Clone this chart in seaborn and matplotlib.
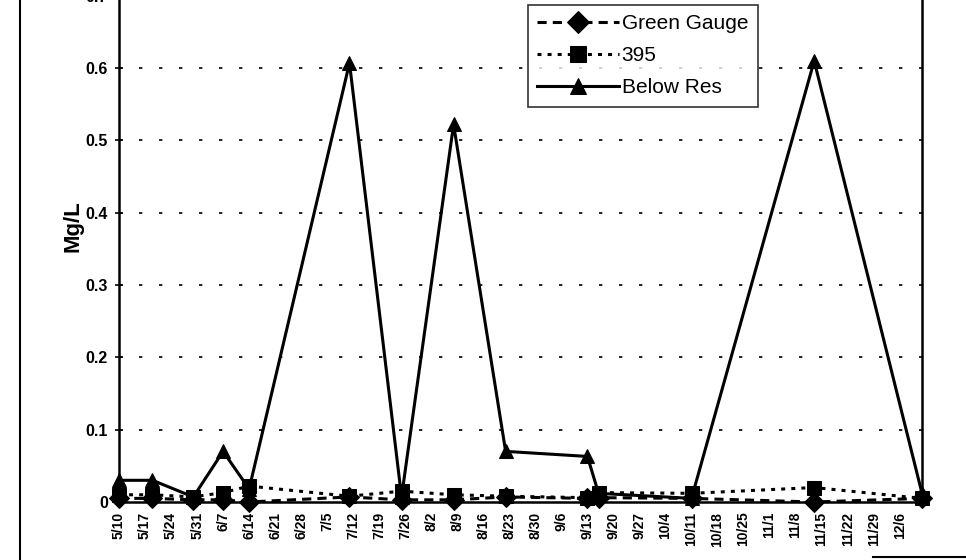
#!/usr/bin/env python3

import pandas as pd
import matplotlib
matplotlib.use('Agg')
import matplotlib.pyplot as plt
from matplotlib.lines import Line2D
from matplotlib.ticker import FuncFormatter
import seaborn as sns

# sample dates (year is not shown on the chart)
dates = ['1999-05-10', '1999-05-19', '1999-05-30', '1999-06-07', '1999-06-14',
         '1999-07-11', '1999-07-25', '1999-08-08', '1999-08-22', '1999-09-13',
         '1999-09-16', '1999-10-11', '1999-11-13', '1999-12-12']

# Mg/L
green_gauge = [0.005, 0.005, 0.003, 0.003, 0.0, 0.007, 0.003, 0.003, 0.007, 0.005,
               0.006, 0.005, 0.0, 0.005]
site_395 = [0.01, 0.01, 0.007, 0.013, 0.022, 0.008, 0.015, 0.01, 0.008, 0.006,
            0.013, 0.012, 0.02, 0.005]
below_res = [0.03, 0.03, 0.007, 0.07, 0.018, 0.607, 0.007, 0.522, 0.07, 0.063,
             0.012, 0.005, 0.61, 0.012]

series_names = ['Green Gauge', '395', 'Below Res']
y_ticks = [0, 0.1, 0.2, 0.3, 0.4, 0.5, 0.6, 0.7]
tick_start = '1999-05-10'
tick_end = '1999-12-06'

df = pd.DataFrame({'date': pd.to_datetime(dates),
                   'Green Gauge': green_gauge,
                   '395': site_395,
                   'Below Res': below_res})
long_df = df.melt(id_vars='date', var_name='site', value_name='mgl')

plt.rcParams['font.family'] = ['Liberation Sans', 'DejaVu Sans']

fig = plt.figure(figsize=(9.66, 5.6), dpi=100)
# top of the plot area (0.7) sits just above the cropped scan edge
ax = fig.add_axes([119 / 966, 58 / 560, 803 / 966, 0.904])

sns.lineplot(data=long_df, x='date', y='mgl', hue='site', style='site',
             hue_order=series_names, style_order=series_names,
             palette=['black'] * 3,
             markers={'Green Gauge': 'D', '395': 's', 'Below Res': '^'},
             dashes={'Green Gauge': (3, 2), '395': (1.3, 2), 'Below Res': ''},
             linewidth=2.2, markersize=10, markeredgecolor='black',
             ax=ax, estimator=None, sort=False)

for ln in ax.lines:
    ln.set_clip_on(False)

# axes limits and ticks
ax.set_ylim(0, 0.7)
ax.set_xlim(pd.Timestamp('1999-05-10'), pd.Timestamp('1999-12-12'))
ax.set_yticks(y_ticks)
ax.yaxis.set_major_formatter(FuncFormatter(lambda v, _: f'{v:g}'))
week_ticks = pd.date_range(tick_start, tick_end, freq='7D')
ax.set_xticks(week_ticks)
ax.set_xticklabels([f'{d.month}/{d.day}' for d in week_ticks],
                   rotation=90, fontsize=10, fontweight='bold')
for lbl in ax.get_yticklabels():
    lbl.set_fontsize(11.5)
    lbl.set_fontweight('bold')
ax.tick_params(axis='y', direction='inout', length=6, width=1.2, pad=5)
ax.tick_params(axis='x', length=0, pad=7)

ax.set_xlabel('')
ax.set_ylabel('Mg/L', fontsize=16, fontweight='bold')
ax.yaxis.set_label_coords(-0.044, 0.545)

# dotted horizontal gridlines like the Excel chart
ax.grid(False)
for v in y_ticks[1:]:
    ax.axhline(v, color='black', lw=1.2, dashes=(2, 10), zorder=0)

for sp in ax.spines.values():
    sp.set_color('black')
    sp.set_linewidth(1.8)

# legend
handles, labels = ax.get_legend_handles_labels()
pairs = [(h, l) for h, l in zip(handles, labels) if l in series_names]
ax.get_legend().remove()
leg = fig.legend([p[0] for p in pairs], [p[1] for p in pairs],
                 loc='upper left', bbox_to_anchor=(528 / 966, 1 - 5 / 560),
                 fontsize=15, frameon=True, fancybox=False, handlelength=3.9,
                 borderpad=0.45, labelspacing=0.62, handletextpad=0.15,
                 borderaxespad=0)
leg.get_frame().set_edgecolor('black')
leg.get_frame().set_linewidth(1.2)
for h in leg.legend_handles:
    h.set_color('black')
    h.set_markersize(11)

# scanned page border pieces
fig.add_artist(Line2D([20 / 966, 20 / 966], [0, 1], color='black', lw=1.5))
fig.add_artist(Line2D([873 / 966, 1], [3 / 560, 3 / 560], color='black', lw=1.5))

fig.savefig('out.png', dpi=100)
